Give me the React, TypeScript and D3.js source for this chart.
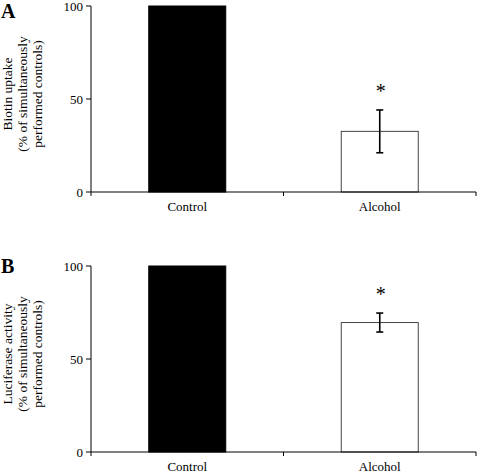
import React from "react";
import * as d3 from "d3";

const categories = ["Control", "Alcohol"];
const biotinValues = [100, 32.6];
const biotinErrors = [0, 11.5];
const luciferaseValues = [100, 69.6];
const luciferaseErrors = [0, 5.1];
const yTicks = [0, 50, 100];
const significant = [false, true];

const W = 480;
const H = 472;
const FONT = "Liberation Serif, DejaVu Serif, serif";

type PanelProps = {
  letter: string;
  letterY: number;
  top: number;
  bottom: number;
  labelLines: string[];
  values: number[];
  errors: number[];
};

function Panel({ letter, letterY, top, bottom, labelLines, values, errors }: PanelProps) {
  const x = d3.scaleBand<string>().domain(categories).range([91, 476]).paddingInner(0.6).paddingOuter(0.3);
  const y = d3.scaleLinear().domain([0, 100]).range([bottom, top]);
  const labelCenter = (top + bottom) / 2 - 5;
  const xTickPositions = [91, 91 + x.step(), 476];
  return (
    <g>
      <text x={1} y={letterY} fontFamily={FONT} fontWeight="bold" fontSize={20}>{letter}</text>
      {labelLines.map((l, i) => (
        <text
          key={i}
          transform={`translate(${11.5 + i * 15},${labelCenter}) rotate(-90)`}
          textAnchor="middle"
          fontFamily={FONT}
          fontSize={13.5}
        >{l}</text>
      ))}
      {categories.map((c, i) => {
        const bx = x(c)!;
        const bw = x.bandwidth();
        const cx = bx + bw / 2;
        const v = values[i];
        const e = errors[i];
        return (
          <g key={c}>
            <rect
              x={bx}
              y={y(v)}
              width={bw}
              height={y(0) - y(v)}
              fill={i === 0 ? "#000" : "#fff"}
              stroke={i === 0 ? "#000" : "#444"}
              strokeWidth={1}
            />
            {e > 0 && (
              <g stroke="#000" strokeWidth={1.6}>
                <line x1={cx} x2={cx} y1={y(v + e)} y2={y(v - e)} />
                <line x1={cx - 3.5} x2={cx + 3.5} y1={y(v + e)} y2={y(v + e)} />
                <line x1={cx - 3.5} x2={cx + 3.5} y1={y(v - e)} y2={y(v - e)} />
              </g>
            )}
            {significant[i] && (
              <text x={cx + 1} y={y(v + e) - 12} textAnchor="middle" fontFamily={FONT} fontSize={20}>*</text>
            )}
            <text x={cx} y={bottom + 18.5} textAnchor="middle" fontFamily={FONT} fontSize={13}>{c}</text>
          </g>
        );
      })}
      <line x1={91} x2={91} y1={top} y2={bottom} stroke="#000" strokeWidth={1} />
      <line x1={91} x2={476} y1={bottom} y2={bottom} stroke="#000" strokeWidth={1} />
      {yTicks.map((t) => (
        <g key={t}>
          <line x1={86} x2={91} y1={y(t)} y2={y(t)} stroke="#000" strokeWidth={1} />
          <text x={83} y={y(t)} dy="0.35em" textAnchor="end" fontFamily={FONT} fontSize={13}>{t}</text>
        </g>
      ))}
      {xTickPositions.map((p, i) => (
        <line key={i} x1={p} x2={p} y1={bottom} y2={bottom + 4} stroke="#000" strokeWidth={1} />
      ))}
    </g>
  );
}

export default function App() {
  return (
    <svg width={W} height={H} style={{ position: "absolute", left: 0, top: 0, background: "#fff" }}>
      <rect width={W} height={H} fill="#fff" />
      <Panel
        letter="A"
        letterY={18}
        top={6}
        bottom={192}
        labelLines={["Biotin uptake", "(% of simultaneously", "performed controls)"]}
        values={biotinValues}
        errors={biotinErrors}
      />
      <Panel
        letter="B"
        letterY={273}
        top={266}
        bottom={452}
        labelLines={["Luciferase activity", "(% of simultaneously", "performed controls)"]}
        values={luciferaseValues}
        errors={luciferaseErrors}
      />
    </svg>
  );
}
